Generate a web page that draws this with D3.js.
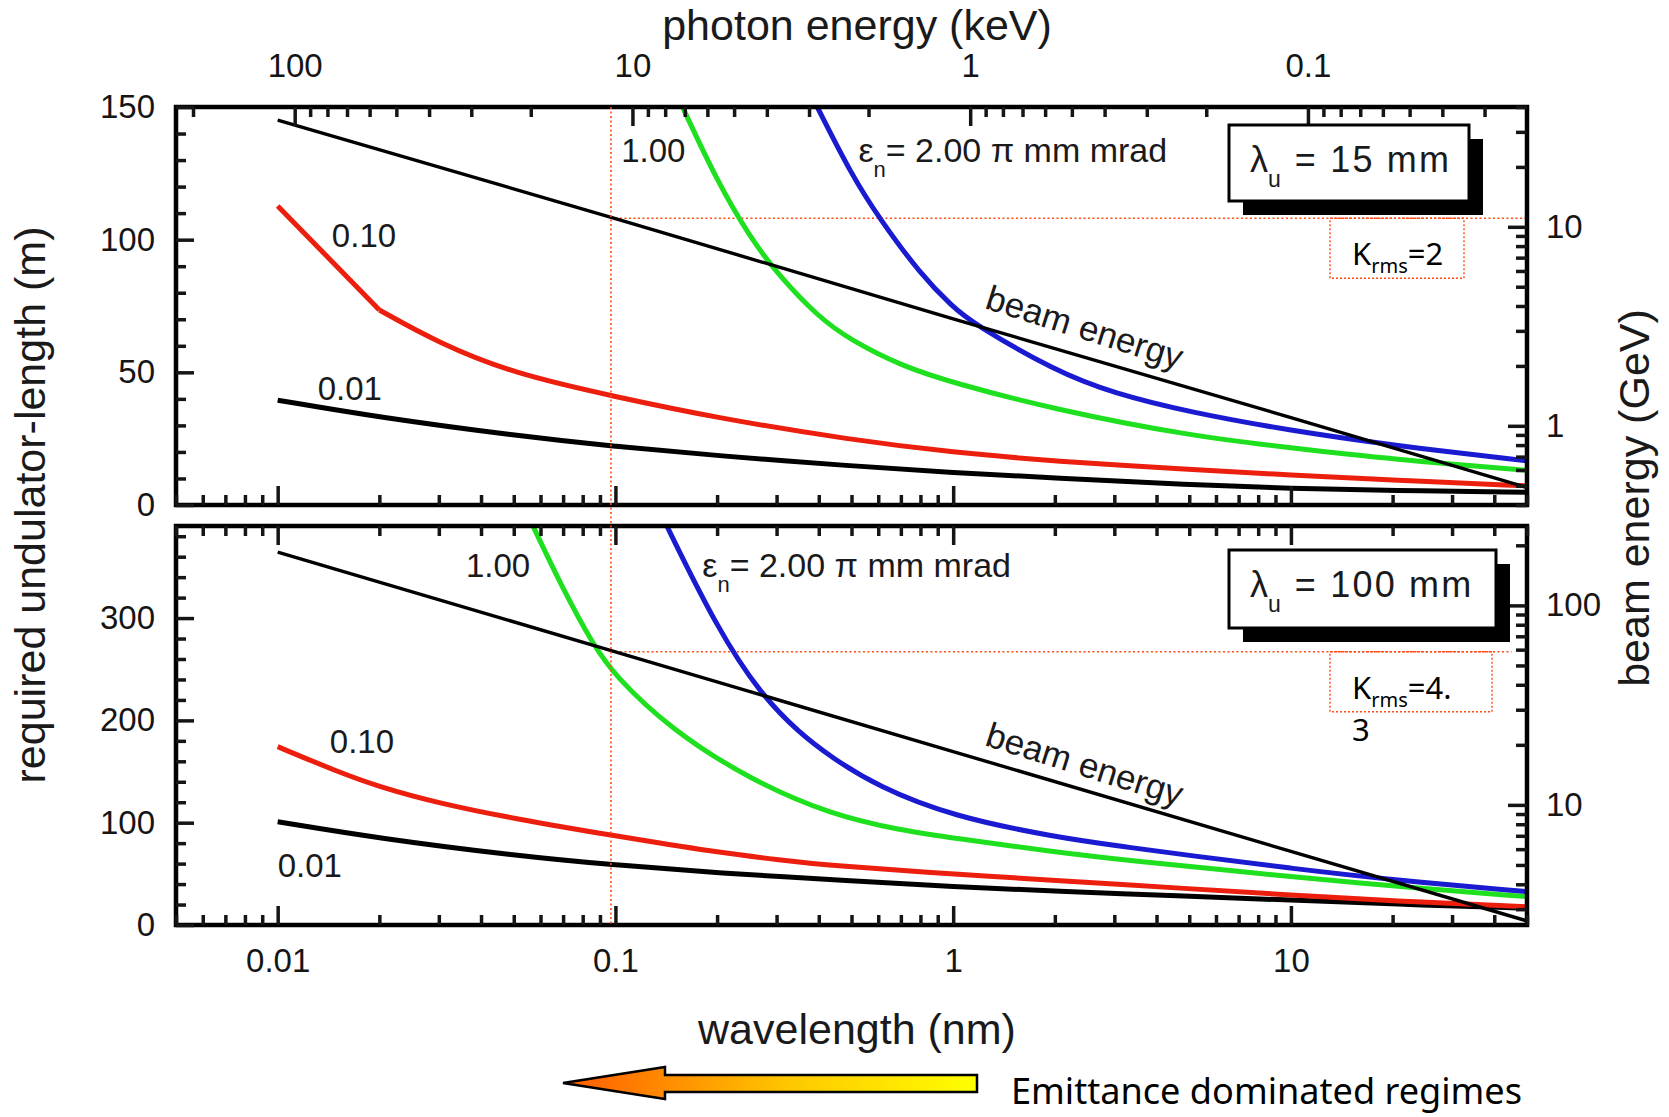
<!DOCTYPE html>
<html>
<head>
<meta charset="utf-8">
<script src="https://cdn.jsdelivr.net/npm/d3@7"></script>
<style>
  body { margin: 0; background: #fff; }
  svg { display: block; }
</style>
</head>
<body>
<div id="container"></div>
<script>
/* CONSTANTS AND GLOBALS */
const width = 1669, height = 1117;
const plotLeft = 176, plotRight = 1527;
const font = "'Liberation Sans', Arial, sans-serif";
const noteFont = "'Noto Sans', sans-serif";
const RED = "#ec1e0e", GREEN = "#1ee01e", BLUE = "#1a1ad0", BLACK = "#000";
const DOT = "#ff4a14";

/* DATA */
// wavelength axis (nm), shared by both panels
const wavelengthDomain = [0.005, 50];
const wavelengthLabels = [0.01, 0.1, 1, 10];
// photon energy axis (keV) = hc / wavelength, as the ticks sit in the plot
const hcKeVnm = 1.123;
const photonLabels = [100, 10, 1, 0.1];

// upper panel: lambda_u = 15 mm
const topLengthDomain = [0, 150];
const topBeamDomain = [0.4, 40];
const topBeamNm  = [0.01, 0.1, 1, 10, 50];
const topBeamGeV = [34.4, 11.0, 3.45, 1.1, 0.49];
const topE001Nm  = [0.01, 0.02, 0.05, 0.1, 0.2, 0.5, 1, 2, 5, 10, 20, 50];
const topE001Len = [39.5, 33, 26.2, 22, 18.6, 14.7, 12.2, 10.2, 7.6, 6.2, 5.5, 4.8];
const topE010Nm  = [0.01, 0.02, 0.03, 0.05, 0.1, 0.2, 0.5, 1, 2, 5, 10, 20, 50];
const topE010Len = [112.7, 73.5, 61, 49.5, 40.8, 32.8, 24.5, 19.8, 16.5, 13.4, 11.3, 9.4, 7.2];
const topE100Nm  = [0.158, 0.2, 0.25, 0.3, 0.4, 0.5, 0.7, 1, 2, 5, 10, 20, 50];
const topE100Len = [150, 122, 101, 87.5, 70.6, 62, 52.5, 46, 36, 26.1, 21.5, 17.2, 13.1];
const topE200Nm  = [0.396, 0.5, 0.603, 0.8, 1, 1.14, 2, 3, 5, 10, 20, 50];
const topE200Len = [150, 124.5, 108.2, 87, 74.5, 68.6, 50.5, 42, 35, 28, 22.5, 16.6];
const topMarkNm = 0.097, topMarkGeV = 11.05;

// lower panel: lambda_u = 100 mm
const botLengthDomain = [0, 390];
const botBeamDomain = [2.5, 250];
const botBeamNm  = [0.01, 0.1, 1, 10, 50];
const botBeamGeV = [185, 58.5, 18.5, 5.85, 2.62];
const botE001Nm  = [0.01, 0.02, 0.05, 0.1, 0.2, 0.5, 1, 2, 5, 10, 20, 50];
const botE001Len = [101, 84.7, 68, 58.5, 51, 43, 37.4, 33, 28, 24.4, 20.5, 16.3];
const botE010Nm  = [0.01, 0.015, 0.02, 0.03, 0.05, 0.1, 0.2, 0.3, 0.45, 1, 2, 5, 10, 20, 50];
const botE010Len = [174.3, 150, 135, 119, 104, 87, 71, 64, 57.5, 50, 43.5, 35.5, 29.3, 23.5, 17.9];
const botE100Nm  = [0.057, 0.07, 0.086, 0.1, 0.145, 0.25, 0.433, 0.7, 1, 2, 3.2, 10, 20, 50];
const botE100Len = [390, 328, 273.7, 243, 192, 142, 108, 92.5, 85, 71.5, 63.5, 47.2, 38, 27.7];
const botE200Nm  = [0.142, 0.2, 0.27, 0.35, 0.433, 0.6, 1, 2, 3.2, 5, 10, 20, 50];
const botE200Len = [390, 290, 224.8, 188, 164.5, 135, 106, 86, 76.5, 68, 55.4, 44, 32.6];
const botMarkNm = 0.097, botMarkGeV = 58.6;

const zip = (a, b) => a.map((v, i) => [v, b[i]]);

const panels = [
  {
    top: 107, bottom: 505,
    lenDomain: topLengthDomain, lenTicks: d3.range(0, 151, 10), lenMajor: 50,
    beamDomain: topBeamDomain, beamLabels: [1, 10],
    beam: zip(topBeamNm, topBeamGeV),
    series: [
      { pts: zip(topE001Nm, topE001Len), color: BLACK },
      { pts: zip(topE010Nm, topE010Len), color: RED, kink: 1 },
      { pts: zip(topE100Nm, topE100Len), color: GREEN },
      { pts: zip(topE200Nm, topE200Len), color: BLUE }
    ],
    mark: [topMarkNm, topMarkGeV], markEndNm: 50,
    // annotation anchors in data units [nm, m]
    labels: { l100: [0.104, 129.3], l010: [0.01447, 97.2], l001: [0.01314, 39.6],
              eps: [0.524, 129.3], beam: [1.231, 74.2] },
    undulator: "15 mm", boxW: 240, boxDy: 18, boxH: 76,
    krms: ["=2"], krmsW: 134
  },
  {
    top: 526, bottom: 925,
    lenDomain: botLengthDomain, lenTicks: d3.range(0, 391, 20), lenMajor: 100,
    beamDomain: botBeamDomain, beamLabels: [10, 100],
    beam: zip(botBeamNm, botBeamGeV),
    series: [
      { pts: zip(botE001Nm, botE001Len), color: BLACK },
      { pts: zip(botE010Nm, botE010Len), color: RED },
      { pts: zip(botE100Nm, botE100Len), color: GREEN },
      { pts: zip(botE200Nm, botE200Len), color: BLUE }
    ],
    mark: [botMarkNm, botMarkGeV], markEndNm: 45,
    labels: { l100: [0.0361, 340.1], l010: [0.01427, 168.1], l001: [0.01, 46.9],
              eps: [0.1807, 340.1], beam: [1.231, 175.9] },
    undulator: "100 mm", boxW: 267, boxDy: 24, boxH: 78,
    krms: ["=4.", "3"], krmsW: 162
  }
];

/* SCALES */
const x = d3.scaleLog().domain(wavelengthDomain).range([plotLeft, plotRight]);
const xPhoton = d3.scaleLog()
  .domain([hcKeVnm / wavelengthDomain[0], hcKeVnm / wavelengthDomain[1]])
  .range([plotLeft, plotRight]);
const isDecade = v => Math.abs(Math.log10(v) - Math.round(Math.log10(v))) < 1e-6;

/* CREATE SVG ELEMENT */
const svg = d3.select("#container")
  .append("svg")
  .attr("width", width)
  .attr("height", height)
  .style("background", "#fff");

const defs = svg.append("defs");

// inward ticks built from d3 axes (negative inner size)
function addAxis(axisGen, transform, values, len, fmt, pad) {
  const axis = axisGen.tickValues(values)
    .tickSizeInner(-len).tickSizeOuter(0).tickPadding(pad)
    .tickFormat(fmt || (() => ""));
  const g = svg.append("g").attr("transform", transform).call(axis);
  g.select(".domain").remove();
  g.selectAll(".tick line").attr("stroke-width", 3.5);
  g.attr("font-family", font).attr("font-size", 33).attr("color", "#151515");
  return g;
}

panels.forEach((p, i) => {
  const y = d3.scaleLinear().domain(p.lenDomain).range([p.bottom, p.top]);
  const yBeam = d3.scaleLog().domain(p.beamDomain).range([p.bottom, p.top]);

  defs.append("clipPath").attr("id", `clip${i}`)
    .append("rect")
    .attr("x", plotLeft).attr("y", p.top)
    .attr("width", plotRight - plotLeft).attr("height", p.bottom - p.top);

  const plot = svg.append("g").attr("clip-path", `url(#clip${i})`);

  // dotted marker line at the beam energy for ~0.1 nm
  plot.append("line")
    .attr("x1", x(p.mark[0])).attr("x2", x(p.markEndNm))
    .attr("y1", yBeam(p.mark[1])).attr("y2", yBeam(p.mark[1]))
    .attr("stroke", DOT).attr("stroke-width", 1.6).attr("stroke-dasharray", "2,2.5");

  // emittance curves
  const smooth = d3.line().x(d => x(d[0])).y(d => y(d[1])).curve(d3.curveBasis);
  const straight = d3.line().x(d => x(d[0])).y(d => y(d[1]));
  p.series.forEach(s => {
    const parts = s.kink
      ? [straight(s.pts.slice(0, s.kink + 1)), smooth(s.pts.slice(s.kink))]
      : [smooth(s.pts)];
    parts.forEach(dPath => {
      plot.append("path")
        .attr("d", dPath)
        .attr("fill", "none")
        .attr("stroke", s.color)
        .attr("stroke-width", 5)
        .attr("stroke-linejoin", "round");
    });
  });

  // beam energy (right axis)
  const beamLine = d3.line().x(d => x(d[0])).y(d => yBeam(d[1]));
  plot.append("path")
    .attr("d", beamLine(p.beam))
    .attr("fill", "none")
    .attr("stroke", BLACK)
    .attr("stroke-width", 3.4);

  // frame
  svg.append("rect")
    .attr("x", plotLeft).attr("y", p.top)
    .attr("width", plotRight - plotLeft).attr("height", p.bottom - p.top)
    .attr("fill", "none").attr("stroke", "#000").attr("stroke-width", 4.5);

  // left axis: undulator length
  const lenMaj = p.lenTicks.filter(v => v % p.lenMajor === 0);
  const lenMin = p.lenTicks.filter(v => v % p.lenMajor !== 0);
  addAxis(d3.axisLeft(y), `translate(${plotLeft},0)`, lenMin, 10, null, 21);
  addAxis(d3.axisLeft(y), `translate(${plotLeft},0)`, lenMaj, 18, d => d, 21);

  // right axis: beam energy
  const bTicks = yBeam.ticks();
  addAxis(d3.axisRight(yBeam), `translate(${plotRight},0)`, bTicks.filter(v => !isDecade(v)), 11, null, 19);
  addAxis(d3.axisRight(yBeam), `translate(${plotRight},0)`, bTicks.filter(isDecade), 19,
    d => p.beamLabels.includes(d) ? d : "", 19);

  // wavelength ticks on the bottom of each panel
  const wTicks = x.ticks();
  addAxis(d3.axisBottom(x), `translate(0,${p.bottom})`, wTicks.filter(v => !isDecade(v)), 10, null, 24);
  addAxis(d3.axisBottom(x), `translate(0,${p.bottom})`, wTicks.filter(isDecade), 19,
    i === 1 ? (d => wavelengthLabels.includes(d) ? d3.format("~g")(d) : "") : null, 24);

  // top edge: photon energy for the upper panel, wavelength for the lower one
  if (i === 0) {
    const pTicks = xPhoton.ticks();
    addAxis(d3.axisTop(xPhoton), `translate(0,${p.top})`, pTicks.filter(v => !isDecade(v)), 10, null, 30);
    addAxis(d3.axisTop(xPhoton), `translate(0,${p.top})`, pTicks.filter(isDecade), 19,
      d => photonLabels.includes(d) ? d3.format("~g")(d) : "", 30);
  } else {
    addAxis(d3.axisTop(x), `translate(0,${p.top})`, wTicks.filter(v => !isDecade(v)), 10, null, 0);
    addAxis(d3.axisTop(x), `translate(0,${p.top})`, wTicks.filter(isDecade), 19, null, 0);
  }

  // curve labels
  const lab = p.labels;
  const txt = (pos, s) => svg.append("text")
    .attr("x", x(pos[0])).attr("y", y(pos[1]))
    .attr("font-family", font).attr("font-size", 33).attr("fill", "#1a1a1a")
    .text(s);
  txt(lab.l100, "1.00");
  txt(lab.l010, "0.10");
  txt(lab.l001, "0.01");

  const eps = svg.append("text")
    .attr("x", x(lab.eps[0])).attr("y", y(lab.eps[1]))
    .attr("font-family", font).attr("font-size", 34).attr("fill", "#1a1a1a");
  eps.append("tspan").text("ε");
  eps.append("tspan").attr("font-size", 22).attr("dy", 15).text("n");
  eps.append("tspan").attr("dy", -15).text("= 2.00 π mm mrad");

  svg.append("text")
    .attr("transform", `translate(${x(lab.beam[0])},${y(lab.beam[1])}) rotate(17.5)`)
    .attr("font-family", font).attr("font-size", 35).attr("fill", "#1a1a1a")
    .text("beam energy");

  // undulator period box with shadow
  const bx = 1229, by = p.top + p.boxDy;
  svg.append("rect")
    .attr("x", bx + 14).attr("y", by + 14)
    .attr("width", p.boxW).attr("height", p.boxH).attr("fill", "#000");
  svg.append("rect")
    .attr("x", bx).attr("y", by)
    .attr("width", p.boxW).attr("height", p.boxH)
    .attr("fill", "#fff").attr("stroke", "#000").attr("stroke-width", 3);
  const lu = svg.append("text")
    .attr("x", bx + 21).attr("y", by + 47)
    .attr("font-family", font).attr("font-size", 36).attr("fill", "#1a1a1a");
  lu.append("tspan").text("λ");
  lu.append("tspan").attr("font-size", 23).attr("dy", 15).text("u");
  lu.append("tspan").attr("dy", -15).attr("dx", 14)
    .attr("letter-spacing", 2.2).text("= " + p.undulator);

  // K_rms note hanging from the dotted line
  const ky = yBeam(p.mark[1]);
  svg.append("rect")
    .attr("x", 1330).attr("y", ky)
    .attr("width", p.krmsW).attr("height", 60)
    .attr("fill", "none").attr("stroke", DOT)
    .attr("stroke-width", 1.4).attr("stroke-dasharray", "2,2");
  const k = svg.append("text")
    .attr("x", 1352).attr("y", ky + 47)
    .attr("font-family", noteFont).attr("font-size", 31).attr("fill", "#000");
  k.append("tspan").text("K");
  k.append("tspan").attr("font-size", 20).attr("dy", 8).text("rms");
  k.append("tspan").attr("dy", -8).text(p.krms[0]);
  if (p.krms[1]) {
    svg.append("text")
      .attr("x", 1352).attr("y", ky + 89)
      .attr("font-family", noteFont).attr("font-size", 31).attr("fill", "#000")
      .text(p.krms[1]);
  }
});

// dotted vertical marker through both panels
svg.append("line")
  .attr("x1", x(topMarkNm)).attr("x2", x(topMarkNm))
  .attr("y1", panels[0].top).attr("y2", panels[1].bottom)
  .attr("stroke", DOT).attr("stroke-width", 1.6).attr("stroke-dasharray", "2,2.5");

/* AXIS TITLES */
svg.append("text")
  .attr("x", 857).attr("y", 40)
  .attr("text-anchor", "middle")
  .attr("font-family", font).attr("font-size", 43).attr("fill", "#1a1a1a")
  .text("photon energy (keV)");

svg.append("text")
  .attr("x", 857).attr("y", 1044)
  .attr("text-anchor", "middle")
  .attr("font-family", font).attr("font-size", 43).attr("fill", "#1a1a1a")
  .text("wavelength (nm)");

svg.append("text")
  .attr("transform", "translate(45,505) rotate(-90)")
  .attr("text-anchor", "middle")
  .attr("font-family", font).attr("font-size", 43).attr("fill", "#1a1a1a")
  .text("required undulator-length (m)");

svg.append("text")
  .attr("transform", "translate(1649,498) rotate(-90)")
  .attr("text-anchor", "middle")
  .attr("font-family", font).attr("font-size", 43).attr("fill", "#1a1a1a")
  .text("beam energy (GeV)");

/* ARROW NOTE */
const grad = defs.append("linearGradient").attr("id", "arrowGrad")
  .attr("x1", "0%").attr("x2", "100%");
grad.append("stop").attr("offset", "0%").attr("stop-color", "#ff5a00");
grad.append("stop").attr("offset", "55%").attr("stop-color", "#ffc800");
grad.append("stop").attr("offset", "100%").attr("stop-color", "#ffff00");

const arrowPts = [[563, 1083], [665, 1067], [665, 1075], [977, 1075],
                  [977, 1092], [665, 1092], [665, 1099]];
svg.append("path")
  .attr("d", d3.line()(arrowPts) + "Z")
  .attr("fill", "url(#arrowGrad)")
  .attr("stroke", "#000").attr("stroke-width", 2.5)
  .attr("stroke-linejoin", "miter");

svg.append("text")
  .attr("x", 1011).attr("y", 1104)
  .attr("font-family", noteFont).attr("font-size", 36).attr("fill", "#000")
  .attr("textLength", 511).attr("lengthAdjust", "spacingAndGlyphs")
  .text("Emittance dominated regimes");
</script>
</body>
</html>
